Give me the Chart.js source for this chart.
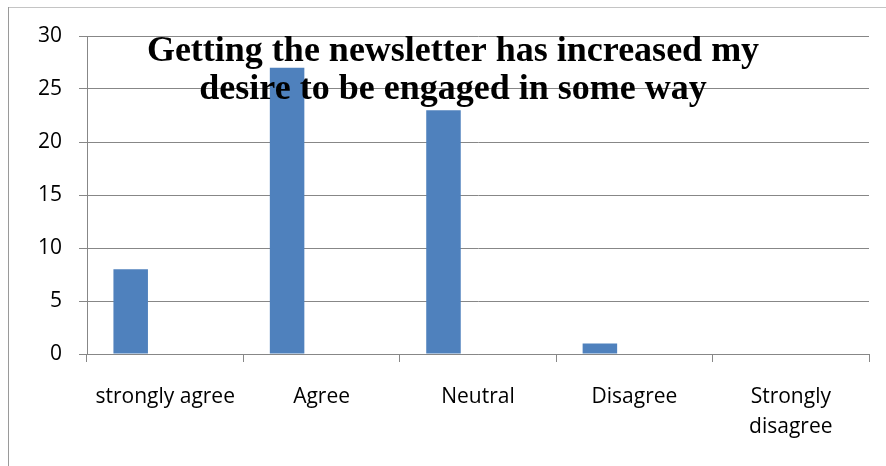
<!DOCTYPE html>
<html>
<head>
<meta charset="utf-8">
<script src="https://cdn.jsdelivr.net/npm/chart.js@4"></script>
<style>
html,body{margin:0;padding:0;background:#fff;}
canvas{display:block;}
</style>
</head>
<body>
<canvas id="c" width="886" height="466"></canvas>
<script>
const categories = ['strongly agree', 'Agree', 'Neutral', 'Disagree', ['Strongly', 'disagree']];
const responses = [8, 27, 23, 1, 0];
const emptySeries2 = [null, null, null, null, null];
const emptySeries3 = [null, null, null, null, null];
const titleLines = ['Getting the newsletter has increased my', 'desire to be engaged in some way'];
const yMin = 0, yMax = 30, yStep = 5;

const gridColor = '#878787';
const labelFont = {family: '"Open Sans", Carlito, Lato, sans-serif', size: 21};

const frameAndTitle = {
  id: 'frameAndTitle',
  beforeDraw(chart) {
    const ctx = chart.ctx;
    ctx.save();
    ctx.fillStyle = '#fff';
    ctx.fillRect(0, 0, chart.width, chart.height);
    ctx.lineWidth = 1;
    ctx.strokeStyle = '#c4c4c4';
    ctx.beginPath();
    ctx.moveTo(8, 7.5); ctx.lineTo(chart.width, 7.5);
    ctx.stroke();
    ctx.strokeStyle = '#9a9a9a';
    ctx.beginPath();
    ctx.moveTo(8.5, 7); ctx.lineTo(8.5, chart.height);
    ctx.stroke();
    ctx.restore();
  },
  afterDraw(chart) {
    const ctx = chart.ctx;
    ctx.save();
    ctx.fillStyle = '#000';
    ctx.font = 'bold 36px "Liberation Serif", "Times New Roman", serif';
    ctx.textAlign = 'center';
    ctx.textBaseline = 'alphabetic';
    ctx.fillText(titleLines[0], 453, 61);
    ctx.fillText(titleLines[1], 453, 99);
    ctx.restore();
  }
};

new Chart(document.getElementById('c'), {
  type: 'bar',
  data: {
    labels: categories,
    datasets: [
      {label: 'Series1', data: responses, backgroundColor: '#4F81BD', borderWidth: 0},
      {label: 'Series2', data: emptySeries2, backgroundColor: '#C0504D', borderWidth: 0},
      {label: 'Series3', data: emptySeries3, backgroundColor: '#9BBB59', borderWidth: 0}
    ]
  },
  options: {
    responsive: false,
    devicePixelRatio: 1,
    animation: false,
    events: [],
    categoryPercentage: 0.662,
    barPercentage: 1,
    layout: {padding: {left: 8, top: 36, right: 17, bottom: 0}},
    plugins: {legend: {display: false}, title: {display: false}, tooltip: {enabled: false}},
    scales: {
      x: {
        grid: {display: true, drawOnChartArea: false, drawTicks: true, tickLength: 8, color: gridColor, offset: true},
        border: {display: true, color: gridColor, width: 1},
        ticks: {font: Object.assign({lineHeight: '30px'}, labelFont), color: '#000', padding: 20, maxRotation: 0, autoSkip: false},
        afterFit(scale) { scale.height = 112; }
      },
      y: {
        min: yMin, max: yMax,
        ticks: {stepSize: yStep, font: labelFont, color: '#000', padding: 17},
        grid: {color: gridColor, tickLength: 8, drawTicks: true},
        border: {display: true, color: gridColor, width: 1},
        afterFit(scale) { scale.width = 79; }
      }
    }
  },
  plugins: [frameAndTitle]
});
</script>
</body>
</html>
